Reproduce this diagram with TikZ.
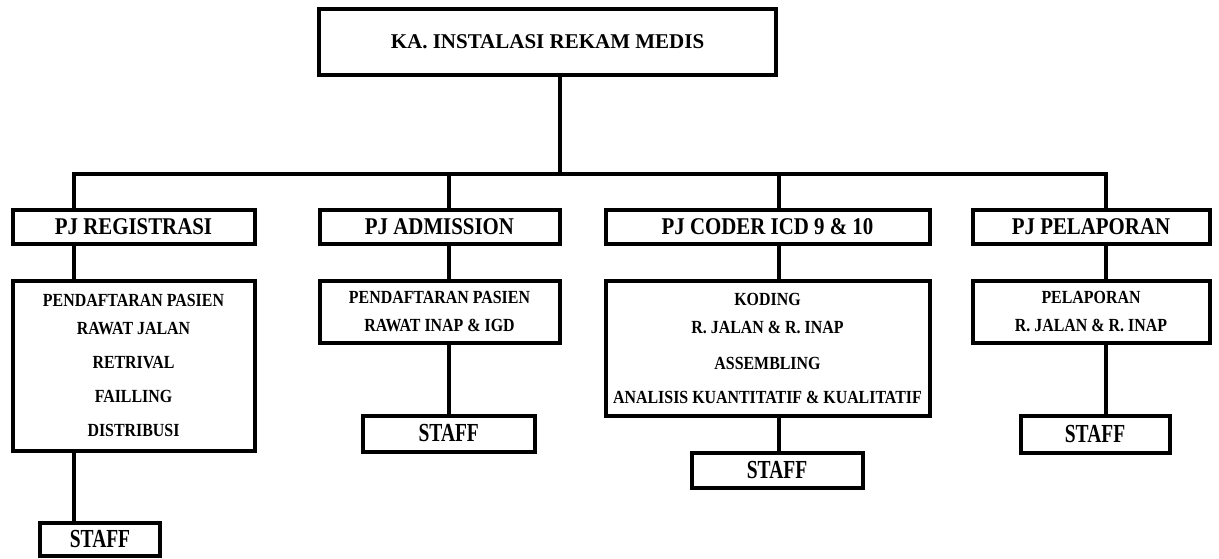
\documentclass[tikz,border=0pt]{standalone}
\usepackage{fontspec}
\setmainfont{Liberation Serif}
\newfontfamily\pjfont[FakeStretch=0.87]{Liberation Serif}
\newfontfamily\taskfont[FakeStretch=0.86]{Liberation Serif}
\newfontfamily\stafffont[FakeStretch=0.75]{Liberation Serif}

\begin{document}
\begin{tikzpicture}[x=1pt,y=-1pt]

\tikzset{headbox/.style = {draw,line width=4pt,inner sep=0pt,font=\bfseries\fontsize{21}{25}\selectfont}}
\tikzset{pjbox/.style = {draw,line width=4pt,inner sep=0pt,minimum height=34pt,font=\pjfont\bfseries\fontsize{24}{28}\selectfont}}
\tikzset{taskbox/.style = {draw,line width=4pt,inner sep=0pt,align=center,font=\taskfont\bfseries\fontsize{18.5}{28}\selectfont}}
\tikzset{staffbox/.style = {draw,line width=4pt,inner sep=0pt,font=\stafffont\bfseries\fontsize{26}{30}\selectfont}}
\tikzset{link/.style = {line width=4pt}}

\useasboundingbox[fill=white] (0,0) rectangle (1219,558);

% head
\node[headbox,minimum width=457pt,minimum height=66pt] (ka) at (547.5,42) {KA. INSTALASI REKAM MEDIS};

% pj boxes
\node[pjbox,minimum width=242pt] (reg) at (133.5,227) {PJ REGISTRASI};
\node[pjbox,minimum width=240pt] (adm) at (439.5,227) {PJ ADMISSION};
\node[pjbox,minimum width=324pt] (cod) at (767.5,227) {PJ CODER ICD 9 \& 10};
\node[pjbox,minimum width=237pt] (pel) at (1091,227) {PJ PELAPORAN};

% tasks
\node[taskbox,minimum width=242pt,minimum height=170pt] (regtask) at (133.5,365.5)
  {PENDAFTARAN PASIEN\\ RAWAT JALAN\\[6pt] RETRIVAL\\[6pt] FAILLING\\[6pt] DISTRIBUSI};
\node[taskbox,minimum width=240pt,minimum height=62pt] (admtask) at (439.5,311.5)
  {PENDAFTARAN PASIEN\\ RAWAT INAP \& IGD};
\node[taskbox,minimum width=324pt,minimum height=135pt] (codtask) at (767.5,348)
  {KODING\\ R. JALAN \& R. INAP\\[8pt] ASSEMBLING\\[6pt] ANALISIS KUANTITATIF \& KUALITATIF};
\node[taskbox,minimum width=237pt,minimum height=62pt] (peltask) at (1091,311.5)
  {PELAPORAN\\ R. JALAN \& R. INAP};

% staff
\node[staffbox,minimum width=119.5pt,minimum height=33pt] (regstaff) at (100,539) {STAFF};
\node[staffbox,minimum width=171.5pt,minimum height=36pt] (admstaff) at (448.75,433.5) {STAFF};
\node[staffbox,minimum width=171pt,minimum height=35pt] (codstaff) at (777,470) {STAFF};
\node[staffbox,minimum width=149pt,minimum height=37pt] (pelstaff) at (1095,434) {STAFF};

% bus points
\coordinate (hub) at (559.5,173.5);
\coordinate (xreg) at (74,173.5);
\coordinate (xadm) at (448.5,173.5);
\coordinate (xcod) at (778.5,173.5);
\coordinate (xpel) at (1105.5,173.5);

%edges
\draw[link] (ka.south -| hub) to (hub);
\draw[link] (reg.north -| xreg) -- (xreg) -- (xpel) -- (pel.north -| xpel);
\draw[link] (xadm) to (adm.north -| xadm);
\draw[link] (xcod) to (cod.north -| xcod);

\draw[link] (reg.south -| xreg) to (regtask.north -| xreg);
\draw[link] (regtask.south -| xreg) to (regstaff.north -| xreg);
\draw[link] (adm.south -| xadm) to (admtask.north -| xadm);
\draw[link] (admtask.south -| xadm) to (admstaff.north -| xadm);
\draw[link] (cod.south -| xcod) to (codtask.north -| xcod);
\draw[link] (codtask.south -| xcod) to (codstaff.north -| xcod);
\draw[link] (pel.south -| xpel) to (peltask.north -| xpel);
\draw[link] (peltask.south -| xpel) to (pelstaff.north -| xpel);

\end{tikzpicture}
\end{document}
